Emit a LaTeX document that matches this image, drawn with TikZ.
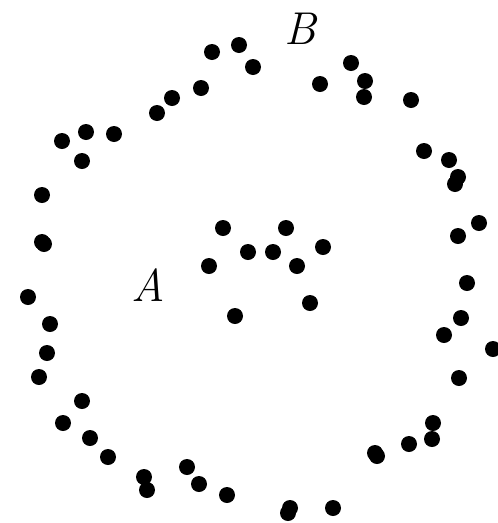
\documentclass[tikz,border=0pt]{standalone}
\begin{document}
\begin{tikzpicture}[x=1pt,y=-1pt,
  dot/.style={circle,fill=black,inner sep=0pt,minimum size=16pt},
  lbl/.style={inner sep=0pt,font=\fontsize{46}{50}\selectfont\itshape}]
\useasboundingbox (0,0) rectangle (498,523);
\foreach \x/\y [count=\i] in {
 212/52, 239/45, 253/67, 201/88, 172/98, 157/113, 62/141, 86/132, 114/134, 82/161,
 42/195, 42/242, 44/244, 320/84, 351/63, 365/81, 364/97, 411/100, 424/151, 449/160,
 458/177, 455/184, 479/223, 458/236, 28/297, 50/324, 47/353, 39/377, 82/401, 63/423,
 90/438, 108/457, 144/477, 147/490, 187/467, 199/484, 227/495, 467/283, 461/318, 444/335,
 493/349, 459/378, 433/423, 432/439, 409/444, 375/453, 377/456, 290/508, 288/513, 333/508,
 223/228, 286/228, 248/252, 273/252, 323/247, 209/266, 297/266, 235/316, 310/303}
  \node[dot] (d\i) at (\x,\y) {};
\node[lbl] (B) at (300,29) {B};
\node[lbl] (A) at (148,285) {A};
\end{tikzpicture}
\end{document}
